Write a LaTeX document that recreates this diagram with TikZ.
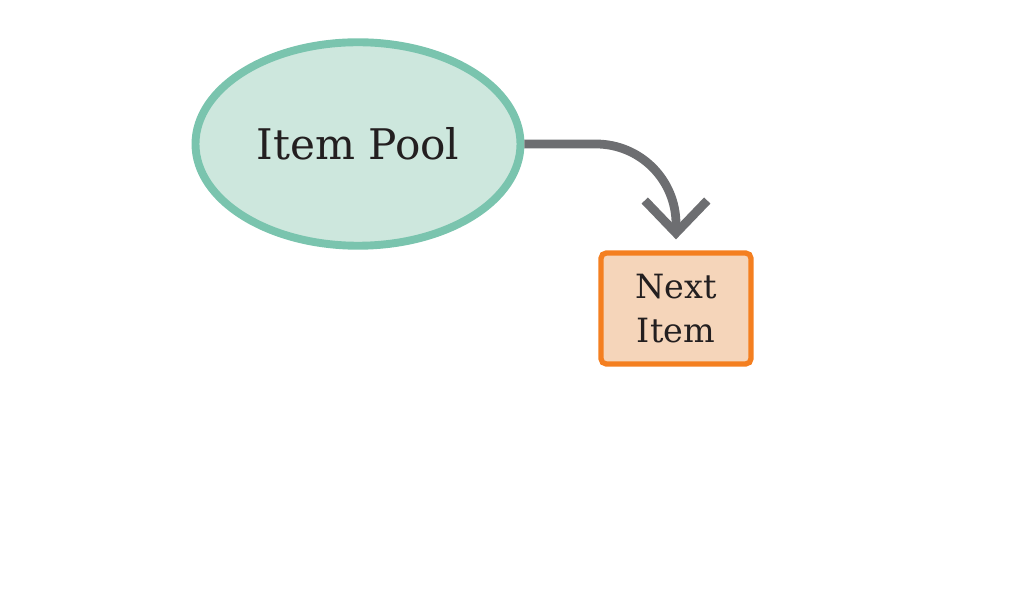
\documentclass[tikz,border=0pt]{standalone}
\usepackage{fontspec}
\setmainfont{DejaVu Serif}
\usepackage{xcolor}
\usetikzlibrary{shapes,positioning,calc,arrows.meta}

\definecolor{poolfill}{HTML}{CDE7DD}
\definecolor{poolline}{HTML}{7AC4AE}
\definecolor{itemfill}{HTML}{F5D5BA}
\definecolor{itemline}{HTML}{F47F20}
\definecolor{flowgray}{HTML}{6D6E71}
\definecolor{inkcol}{HTML}{231F20}

\begin{document}
\begin{tikzpicture}[
    pool/.style={ellipse, draw=poolline, fill=poolfill, line width=4.5pt,
        minimum width=6.5cm, minimum height=4.07cm, inner sep=0pt,
        text=inkcol, font=\fontsize{24}{29}\selectfont},
    itembox/.style={rectangle, rounded corners=3pt, draw=itemline, fill=itemfill,
        line width=3pt, minimum width=3cm, minimum height=2.22cm, inner sep=0pt,
        align=center, text=inkcol, font=\fontsize{19}{25.5}\selectfont},
    flow/.style={draw=flowgray, line width=5pt, rounded corners=1.6cm,
        -{Straight Barb[length=0.65cm, width=1.25cm, line width=5pt]}, shorten >=0.22cm}
]
    \useasboundingbox (0,0) rectangle (20.6,-11.96);

    % Nodes
    \node [pool] (pool) at (7.16,-2.88) {Item Pool};
    \node [itembox] (next) at (13.52,-6.17) {Next\\Item};

    % Connector
    \draw [flow] (pool.east) -| (next.north);
\end{tikzpicture}
\end{document}
